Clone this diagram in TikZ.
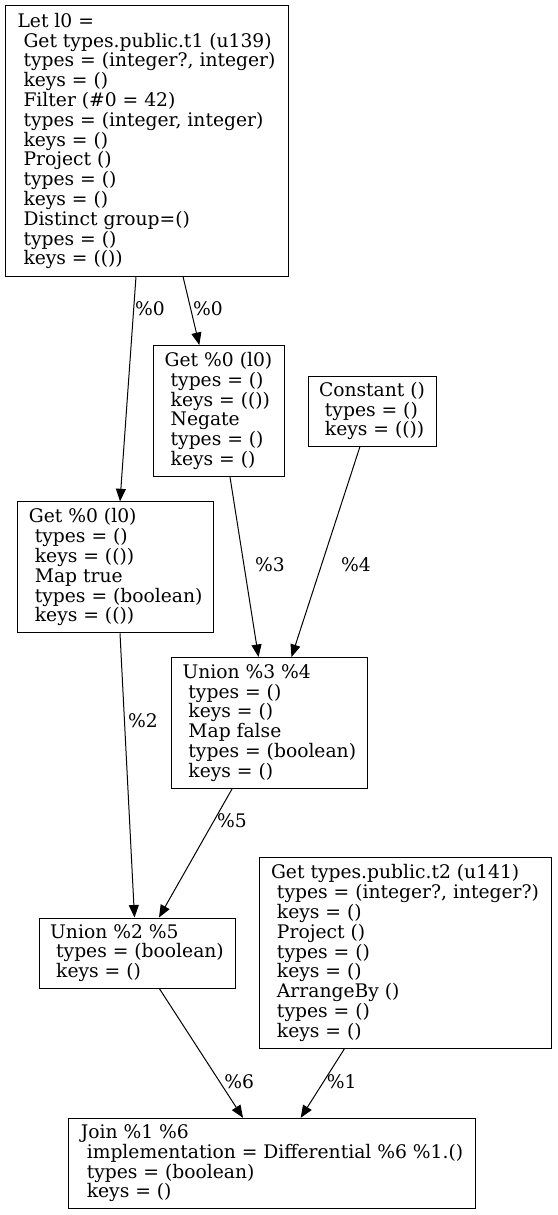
\documentclass[tikz,border=0pt]{standalone}
\usepackage{fontspec}
\setmainfont{DejaVu Serif}
\usetikzlibrary{arrows.meta}
\newcommand\ind{\mbox{}\space}
\tikzset{
  box/.style={draw=black, line width=1pt, align=left, inner sep=0pt,
    font=\fontsize{18.7}{19.8}\selectfont},
  edge/.style={draw=black, line width=1pt, -{Triangle[length=12.5pt,width=10pt]}},
  lab/.style={font=\fontsize{18.7}{19.8}\selectfont, inner sep=0pt}
}
\begin{document}
\begin{tikzpicture}[x=1pt,y=-1pt]
\useasboundingbox (0,0) rectangle (557,1215);
\node[box, minimum width=283pt, minimum height=270pt] (let) at (146.5,141) {Let l0 =\\\ind Get types.public.t1 (u139)\\\ind types = (integer?, integer)\\\ind keys = ()\\\ind Filter (\#0 = 42)\\\ind types = (integer, integer)\\\ind keys = ()\\\ind Project ()\\\ind types = ()\\\ind keys = ()\\\ind Distinct group=()\\\ind types = ()\\\ind keys = (())};
\node[box, minimum width=131pt, minimum height=131pt] (get2) at (218.5,411) {Get \%0 (l0)\\\ind types = ()\\\ind keys = (())\\\ind Negate\\\ind types = ()\\\ind keys = ()};
\node[box, minimum width=128pt, minimum height=70pt] (const) at (372,411) {Constant ()\\\ind types = ()\\\ind keys = (())};
\node[box, minimum width=196pt, minimum height=131pt] (get1) at (115.7,567.3) {Get \%0 (l0)\\\ind types = ()\\\ind keys = (())\\\ind Map true\\\ind types = (boolean)\\\ind keys = (())};
\node[box, minimum width=196pt, minimum height=131pt] (u34) at (269.3,723) {Union \%3 \%4\\\ind types = ()\\\ind keys = ()\\\ind Map false\\\ind types = (boolean)\\\ind keys = ()};
\node[box, minimum width=292pt, minimum height=191pt] (t2) at (405,953) {Get types.public.t2 (u141)\\\ind types = (integer?, integer?)\\\ind keys = ()\\\ind Project ()\\\ind types = ()\\\ind keys = ()\\\ind ArrangeBy ()\\\ind types = ()\\\ind keys = ()};
\node[box, minimum width=196pt, minimum height=70pt] (u25) at (137,953) {Union \%2 \%5\\\ind types = (boolean)\\\ind keys = ()};
\node[box, minimum width=406.7pt, minimum height=90pt] (join) at (272,1163.3) {Join \%1 \%6\\\ind implementation = Differential \%6 \%1.()\\\ind types = (boolean)\\\ind keys = ()};

\draw[edge] ([xshift=-10.5pt]let.south) -- ([xshift=4.3pt]get1.north);
\draw[edge] ([xshift=36.5pt]let.south) -- ([xshift=-19.2pt]get2.north);
\draw[edge] ([xshift=11.5pt]get2.south) -- ([xshift=-10.8pt]u34.north);
\draw[edge] ([xshift=-12pt]const.south) -- ([xshift=22.2pt]u34.north);
\draw[edge] ([xshift=4.3pt]get1.south) -- ([xshift=-2.5pt]u25.north);
\draw[edge] ([xshift=-37.3pt]u34.south) -- ([xshift=22pt]u25.north);
\draw[edge] ([xshift=22.3pt]u25.south) -- ([xshift=-29pt]join.north);
\draw[edge] ([xshift=-60.7pt]t2.south) -- ([xshift=28.7pt]join.north);

\node[lab] (l1) at (150,309) {\%0};
\node[lab] (l2) at (208,309) {\%0};
\node[lab] (l3) at (270,565) {\%3};
\node[lab] (l4) at (356,565) {\%4};
\node[lab] (l5) at (143,721) {\%2};
\node[lab] (l6) at (232,821) {\%5};
\node[lab] (l7) at (239.3,1081.7) {\%6};
\node[lab] (l8) at (341.7,1081.7) {\%1};
\end{tikzpicture}
\end{document}
